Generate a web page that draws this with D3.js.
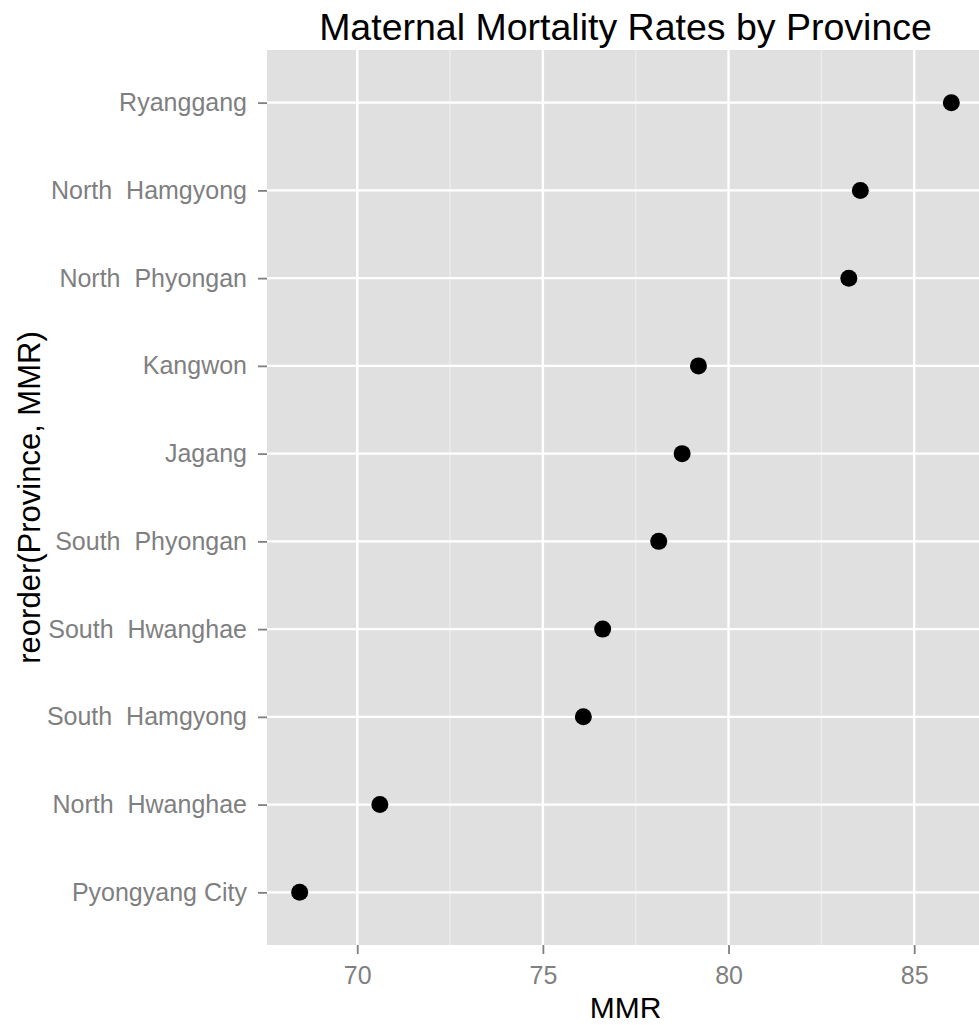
<!DOCTYPE html>
<html><head><meta charset="utf-8">
<script src="https://cdn.jsdelivr.net/npm/d3@7"></script>
<style>body{margin:0;background:#fff;} text{font-family:"Liberation Sans",Arial,sans-serif;}</style>
</head><body>
<svg id="c" width="979" height="1025"></svg>
<script>
const provinces = ["Pyongyang City","North  Hwanghae","South  Hamgyong","South  Hwanghae","South  Phyongan","Jagang","Kangwon","North  Phyongan","North  Hamgyong","Ryanggang"];
const mmr = [68.45, 70.61, 76.09, 76.61, 78.12, 78.75, 79.19, 83.24, 83.55, 86.0];
const xTicks = [70, 75, 80, 85];
const xMinor = [72.5, 77.5, 82.5];
const title = "Maternal Mortality Rates by Province";
const xTitle = "MMR";
const yTitle = "reorder(Province, MMR)";

const svg = d3.select("#c");
const L = 267, R = 984, T = 50, B = 945;
const x = d3.scaleLinear().domain([67.57, 86.88]).range([L, R]);
const y = d3.scalePoint().domain(provinces).range([B, T]).padding(0.6);

svg.append("rect").attr("x", L).attr("y", T).attr("width", R - L).attr("height", B - T).attr("fill", "#e0e0e0");
svg.selectAll(".minor").data(xMinor).enter().append("line")
  .attr("x1", d => x(d)).attr("x2", d => x(d)).attr("y1", T).attr("y2", B)
  .attr("stroke", "#eeeeee").attr("stroke-width", 1.2);
svg.selectAll(".majx").data(xTicks).enter().append("line")
  .attr("x1", d => x(d)).attr("x2", d => x(d)).attr("y1", T).attr("y2", B)
  .attr("stroke", "#fff").attr("stroke-width", 2.4);
svg.selectAll(".majy").data(provinces).enter().append("line")
  .attr("x1", L).attr("x2", R).attr("y1", d => y(d)).attr("y2", d => y(d))
  .attr("stroke", "#fff").attr("stroke-width", 2.4);

const xa = svg.append("g").attr("transform", `translate(0,${B})`)
  .call(d3.axisBottom(x).tickValues(xTicks).tickSize(9).tickPadding(12));
const ya = svg.append("g").attr("transform", `translate(${L},0)`)
  .call(d3.axisLeft(y).tickSize(9).tickPadding(11));
[xa, ya].forEach(a => {
  a.select(".domain").remove();
  a.selectAll(".tick line").attr("stroke", "#7f7f7f").attr("stroke-width", 1.8);
  a.selectAll(".tick text").attr("fill", "#7f7f7f").style("font-size", "25px")
    .style("font-family", '"Liberation Sans",Arial,sans-serif').style("white-space", "pre");
});

svg.selectAll(".pt").data(provinces).enter().append("circle")
  .attr("cx", (d, i) => x(mmr[i])).attr("cy", d => y(d)).attr("r", 8.5).attr("fill", "#000");

svg.append("text").attr("x", (L + R) / 2).attr("y", 40).attr("text-anchor", "middle")
  .style("font-size", "37.5px").attr("fill", "#000").text(title);
svg.append("text").attr("x", (L + R) / 2).attr("y", 1018).attr("text-anchor", "middle")
  .style("font-size", "30px").attr("fill", "#000").text(xTitle);
svg.append("text").attr("transform", `translate(40,${(T + B) / 2}) rotate(-90)`).attr("text-anchor", "middle")
  .style("font-size", "31px").attr("fill", "#000").text(yTitle);
</script>
</body></html>
